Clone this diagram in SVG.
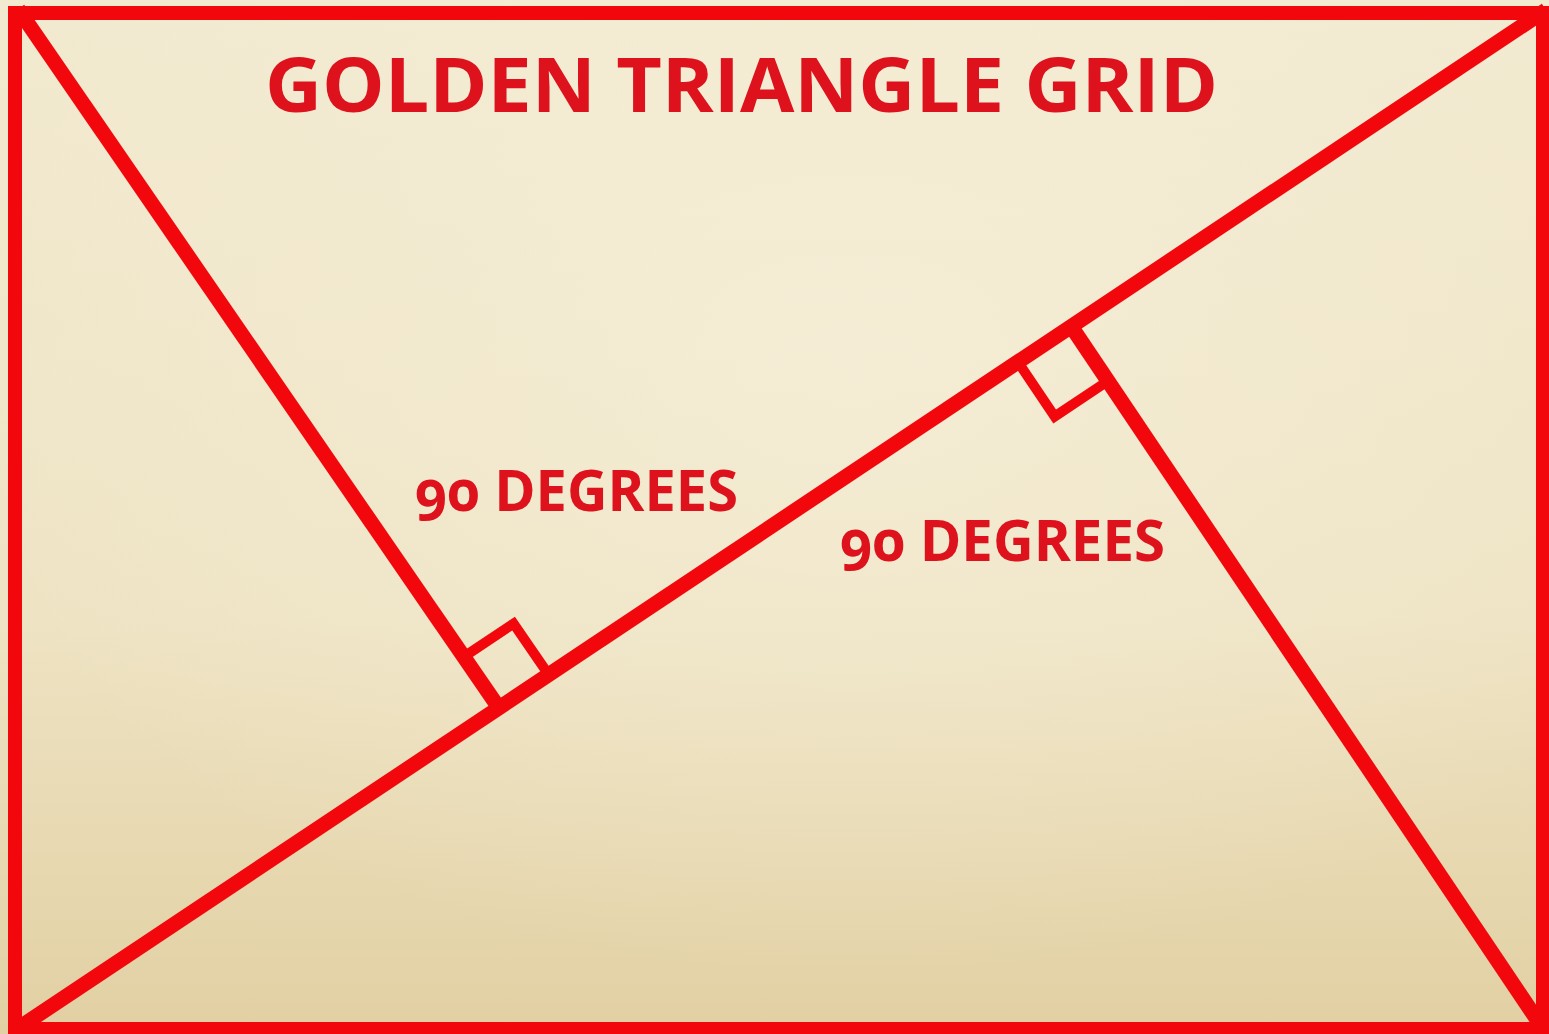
<svg xmlns="http://www.w3.org/2000/svg" width="1549" height="1034" viewBox="0 0 1549 1034">
<style>
.ln{stroke:#f2080c;stroke-width:15;fill:none;stroke-linecap:butt}
.fr{stroke:#f2080c;stroke-width:14;fill:none}
.mk{stroke:#f2080c;stroke-width:10;fill:none;stroke-linejoin:miter}
.tt{font-family:"Open Sans","Noto Sans",Lato,"Liberation Sans",sans-serif;font-weight:700;fill:#dd121d;font-variant-numeric:oldstyle-nums}
</style>
<defs>
<linearGradient id="bg" x1="0" y1="0" x2="0" y2="1">
<stop offset="0" stop-color="#f2ead0"/>
<stop offset="0.6" stop-color="#eee3c3"/>
<stop offset="1" stop-color="#e2d0a3"/>
</linearGradient>
<radialGradient id="glow" cx="0.55" cy="0.35" r="0.6">
<stop offset="0" stop-color="#f7f1dc" stop-opacity="0.6"/>
<stop offset="1" stop-color="#f7f1dc" stop-opacity="0"/>
</radialGradient>
</defs>
<g id="background">
<rect x="0" y="0" width="1549" height="1034" fill="url(#bg)"/>
<rect x="0" y="0" width="1549" height="1034" fill="url(#glow)"/>
</g>
<g id="frame">
<rect class="fr" x="15" y="13" width="1528" height="1016"/>
</g>
<g id="connectors">
<line id="diagonal" class="ln" x1="14" y1="1031" x2="1546" y2="10"/>
<line id="left-line" class="ln" x1="18" y1="9" x2="499" y2="708"/>
<line id="right-line" class="ln" x1="1546" y1="1033" x2="1071" y2="326"/>
</g>
<g id="marker-left">
<polyline class="mk" points="462,658 513.6,623.6 548.6,674.6"/>
</g>
<g id="marker-right">
<polyline class="mk" points="1018,362 1054.7,416.5 1109.6,379.9"/>
</g>
<g id="title">
<text class="tt" x="265" y="112" font-size="76" textLength="953" lengthAdjust="spacingAndGlyphs">GOLDEN TRIANGLE GRID</text>
</g>
<g id="label-left">
<text class="tt" x="415" y="511" font-size="58" textLength="323" lengthAdjust="spacingAndGlyphs">90 DEGREES</text>
</g>
<g id="label-right">
<text class="tt" x="840" y="561" font-size="58" textLength="325" lengthAdjust="spacingAndGlyphs">90 DEGREES</text>
</g>
</svg>
